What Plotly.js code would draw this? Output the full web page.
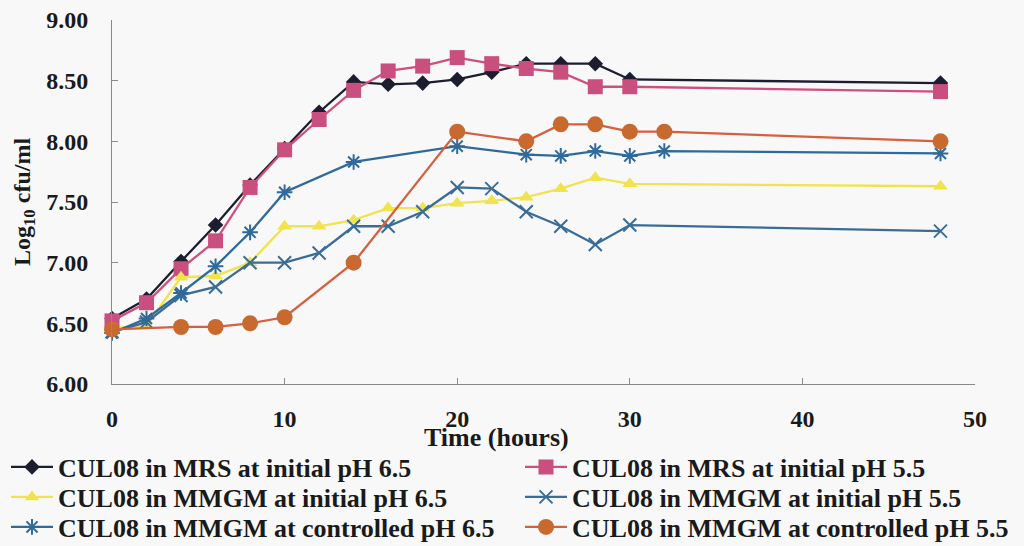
<!DOCTYPE html>
<html>
<head>
<meta charset="utf-8">
<script src="https://cdn.plot.ly/plotly-3.0.1.min.js"></script>
<style>html,body{margin:0;padding:0;background:#f8f8f8;}#chart{width:1024px;height:546px;}</style>
</head>
<body>
<div id="chart"></div>
<script>
const seriesNames = [
  "CUL08 in MRS at initial pH 6.5",
  "CUL08 in MRS at initial pH 5.5",
  "CUL08 in MMGM at initial pH 6.5",
  "CUL08 in MMGM at initial pH 5.5",
  "CUL08 in MMGM at controlled pH 6.5",
  "CUL08 in MMGM at controlled pH 5.5"
];
const timeMRS65 = [0,2,4,6,8,10,12,14,16,18,20,22,24,26,28,30,48];
const mrs65 = [6.54,6.70,7.01,7.31,7.64,7.94,8.24,8.49,8.47,8.48,8.51,8.57,8.64,8.64,8.64,8.51,8.48];
const timeMRS55 = [0,2,4,6,8,10,12,14,16,18,20,22,24,26,28,30,48];
const mrs55 = [6.52,6.67,6.95,7.18,7.62,7.93,8.18,8.42,8.58,8.62,8.69,8.64,8.60,8.57,8.45,8.45,8.41];
const timeMMGM65 = [0,2,4,6,8,10,12,14,16,18,20,22,24,26,28,30,48];
const mmgm65 = [6.46,6.48,6.88,6.89,7.00,7.30,7.30,7.35,7.45,7.45,7.49,7.51,7.54,7.61,7.70,7.65,7.63];
const timeMMGM55 = [0,2,4,6,8,10,12,14,16,18,20,22,24,26,28,30,48];
const mmgm55 = [6.43,6.51,6.73,6.80,7.00,7.00,7.08,7.30,7.30,7.42,7.62,7.61,7.42,7.30,7.15,7.31,7.26];
const timeCtrl65 = [0,2,4,6,8,10,14,20,24,26,28,30,32,48];
const ctrl65 = [6.42,6.54,6.75,6.97,7.25,7.58,7.83,7.96,7.89,7.88,7.92,7.88,7.92,7.90];
const timeCtrl55 = [0,4,6,8,10,14,20,24,26,28,30,32,48];
const ctrl55 = [6.45,6.47,6.47,6.50,6.55,7.00,8.08,8.00,8.14,8.14,8.08,8.08,8.00];
const xTicks = [0,10,20,30,40,50];
const yTicks = [6.0,6.5,7.0,7.5,8.0,8.5,9.0];

const xs = [timeMRS65,timeMRS55,timeMMGM65,timeMMGM55,timeCtrl65,timeCtrl55];
const ys = [mrs65,mrs55,mmgm65,mmgm55,ctrl65,ctrl55];
const lineColors = ["#1d1d30","#cf4f7c","#f0e34c","#3a6c98","#2f6a9a","#d4603e"];
const markerColors = ["#1d1d30","#c84f7e","#f0e34c","#3a6c98","#2f6a9a","#c8692f"];
const symbols = ["diamond","square","triangle-up","x-thin-open","asterisk-open","circle"];
const sizes = [12,15,13,13,13,16];

const legendIds = ["legend","legend2","legend3","legend4","legend5","legend6"];
const traces = seriesNames.map((n,i)=>({
  type:"scatter", mode:"lines+markers", name:"<b>"+n+"</b>", x:xs[i], y:ys[i],
  legend:legendIds[i],
  line:{color:lineColors[i], width:2.3},
  marker:{symbol:symbols[i], size:sizes[i], color:markerColors[i], line:{color:markerColors[i], width:(i===3||i===4)?2:0}},
  cliponaxis:false
}));

const serif = "'Liberation Serif','Times New Roman',serif";
const W = 1024, H = 546, ML = 112, MR = 49, MT = 20, MB = 162;
const PW = W-ML-MR, PH = H-MT-MB;
const px2x = p => (p-ML)/PW;
const py2y = p => (H-MB-p)/PH;

const layout = {
  width:W, height:H,
  paper_bgcolor:"#f8f8f8", plot_bgcolor:"#f8f8f8",
  margin:{l:ML, r:MR, t:MT, b:MB, autoexpand:false},
  font:{family:serif, color:"#1a1a1a"},
  showlegend:true,
  xaxis:{range:[0,50], tickvals:xTicks, ticktext:xTicks.map(v=>"<b>"+v+"</b>"),
    showgrid:false, zeroline:false, showline:true, linecolor:"#8a8a8a", linewidth:1,
    ticks:"inside", ticklen:6, tickcolor:"#8a8a8a", ticklabelstandoff:13,
    tickfont:{size:24, family:serif, color:"#1a1a1a"}},
  yaxis:{range:[6,9], tickvals:yTicks, ticktext:yTicks.map(v=>"<b>"+v.toFixed(2)+"</b>"),
    showgrid:false, zeroline:false, showline:true, linecolor:"#8a8a8a", linewidth:1,
    ticks:"inside", ticklen:6, tickcolor:"#8a8a8a", ticklabelstandoff:18,
    tickfont:{size:24, family:serif, color:"#1a1a1a"},
    title:{text:"<b>Log<sub>10</sub> cfu/ml</b>", font:{size:24, family:serif, color:"#1a1a1a"}, standoff:8}},
  annotations:[{text:"<b>Time (hours)</b>", xref:"paper", yref:"paper", x:px2x(496), y:py2y(437),
    xanchor:"center", yanchor:"middle", showarrow:false, font:{size:26, family:serif, color:"#1a1a1a"}}]
};
const legendPos = [[6,467],[520,467],[6,497],[520,497],[6,527],[520,527]];
legendIds.forEach((id,i)=>{
  layout[id] = {x:px2x(legendPos[i][0]), xanchor:"left", y:py2y(legendPos[i][1]), yanchor:"middle",
    orientation:"v", bgcolor:"rgba(0,0,0,0)", borderwidth:0, itemwidth:42,
    font:{size:26, family:serif, color:"#1a1a1a"}};
});
Plotly.newPlot("chart", traces, layout, {displayModeBar:false, staticPlot:true});
</script>
</body>
</html>
